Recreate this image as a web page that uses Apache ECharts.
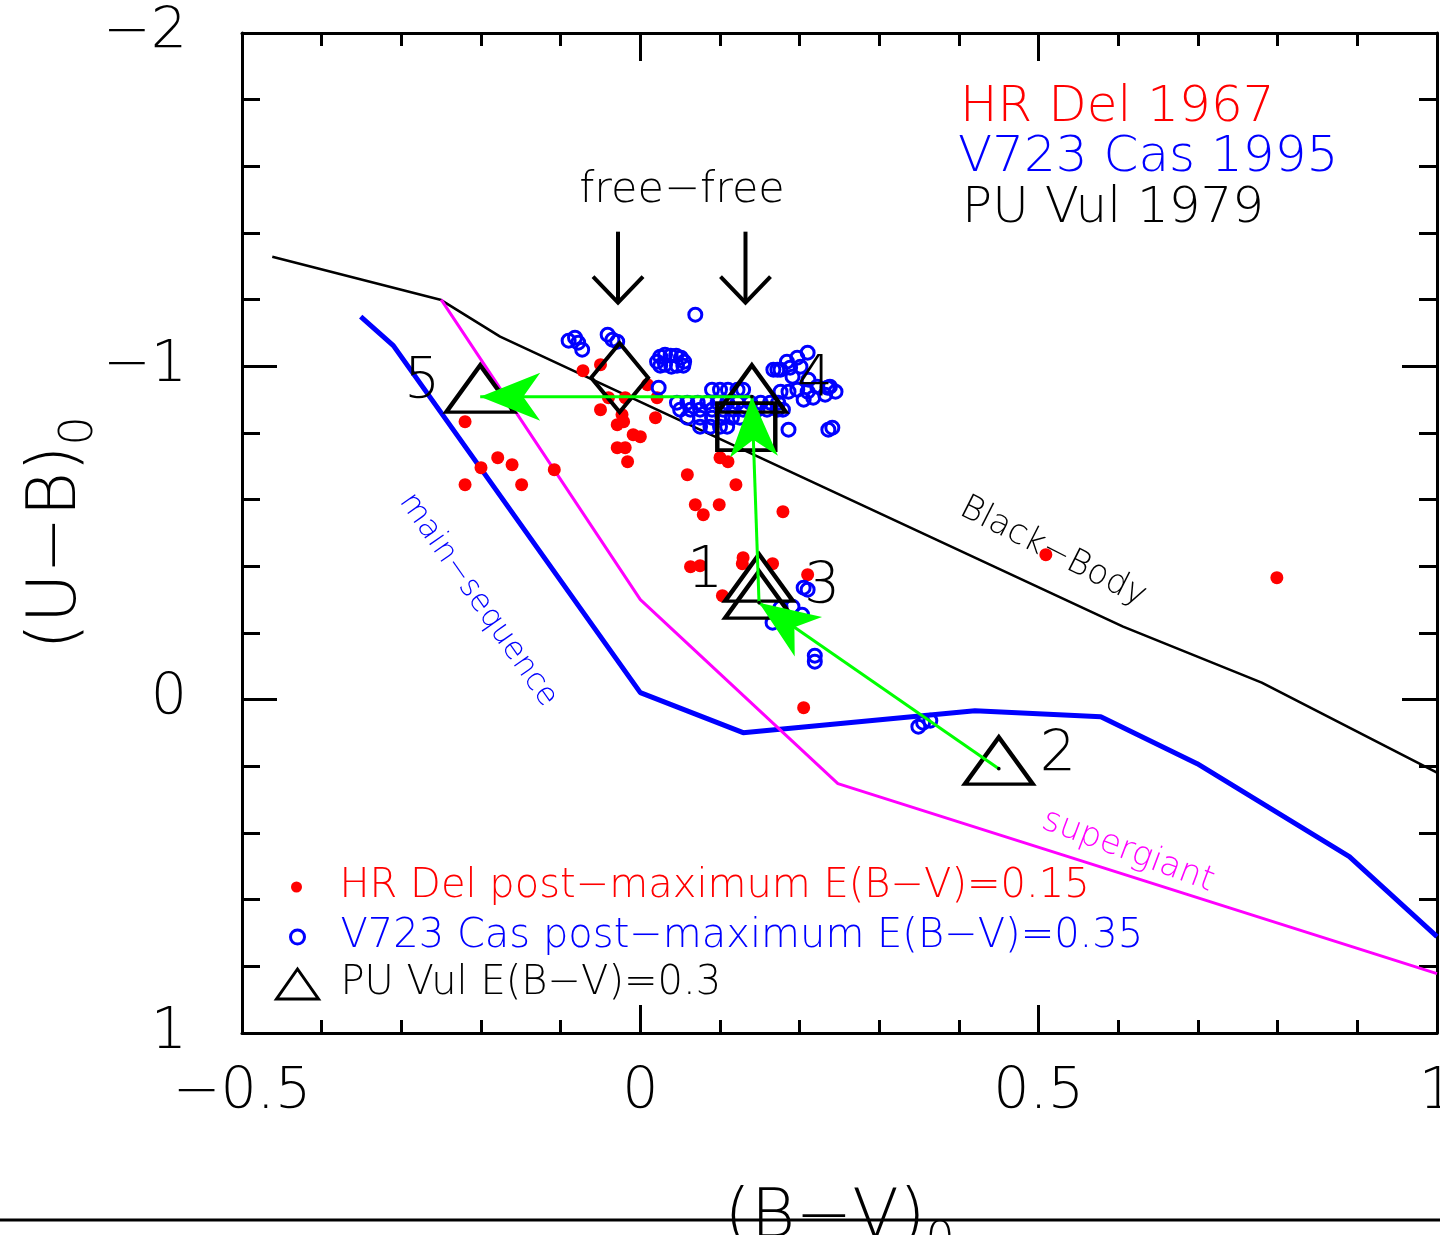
<!DOCTYPE html>
<html>
<head>
<meta charset="utf-8">
<title>(U−B)0 vs (B−V)0 two-colour diagram of novae</title>
<script src="https://cdn.jsdelivr.net/npm/echarts@6/dist/echarts.min.js"></script>
<style>
  html, body { margin: 0; padding: 0; background: #ffffff; }
  #chart { width: 1440px; height: 1235px; }
</style>
</head>
<body>
<div id="chart"></div>
<script>
// ---------------------------------------------------------------
// Data: intrinsic colours (B−V)0 and (U−B)0
// ---------------------------------------------------------------

// HR Del 1967, post-maximum, dereddened with E(B−V)=0.15
const hrDelBV = [-0.220, -0.179, -0.161, -0.200, -0.220, -0.149, -0.108,
  -0.072, -0.050, -0.040, -0.019, 0.009, 0.021, -0.050, -0.023, -0.021, -0.029,
  -0.009, 0.000, 0.019, -0.029, -0.019, -0.016, 0.059, 0.100, 0.110, 0.120,
  0.069, 0.079, 0.099, 0.179, 0.063, 0.075, 0.129, 0.128, 0.166, 0.210, 0.103,
  0.205, 0.509, 0.799];
const hrDelUB = [-0.834, -0.726, -0.705, -0.696, -0.645, -0.645, -0.690,
  -0.987, -1.005, -0.906, -0.906, -0.945, -0.906, -0.870, -0.855, -0.834, -0.825,
  -0.795, -0.789, -0.846, -0.756, -0.756, -0.714, -0.675, -0.726, -0.714, -0.645,
  -0.585, -0.555, -0.585, -0.564, -0.399, -0.402, -0.426, -0.408, -0.408, -0.375, -0.312,
  0.024, -0.435, -0.366];

// V723 Cas 1995, post-maximum, dereddened with E(B−V)=0.35
const v723BV = [0.069, -0.090, -0.078, -0.073, -0.082, -0.041, -0.035, -0.029,
  0.025, 0.031, 0.038, 0.045, 0.051, 0.055, 0.025, 0.031, 0.039, 0.046, 0.054, 0.021,
  0.023,
  0.090, 0.100, 0.110, 0.122, 0.129,
  0.046, 0.059, 0.072, 0.084, 0.097, 0.109, 0.122, 0.138, 0.151, 0.163, 0.173,
  0.050, 0.063, 0.075, 0.090, 0.104, 0.117, 0.129, 0.147, 0.159, 0.172, 0.179,
  0.059, 0.075, 0.090, 0.103, 0.115, 0.125,
  0.075, 0.088, 0.100, 0.109,
  0.186, 0.236, 0.241,
  0.210, 0.197, 0.184, 0.176, 0.188, 0.201, 0.191, 0.176, 0.186, 0.197, 0.210,
  0.205, 0.217, 0.232, 0.238, 0.245, 0.235, 0.222, 0.211, 0.172, 0.167,
  0.210, 0.205, 0.176, 0.191, 0.203, 0.166, 0.219, 0.219,
  0.349, 0.355, 0.364];
const v723UB = [-1.155, -1.077, -1.071, -1.050, -1.086, -1.095, -1.080, -1.074,
  -1.029, -1.035, -1.032, -1.032, -1.026, -1.014, -1.002, -1.005, -0.999, -1.002, -1.002, -1.014,
  -0.936,
  -0.930, -0.930, -0.930, -0.930, -0.930,
  -0.891, -0.891, -0.891, -0.891, -0.891, -0.891, -0.891, -0.891, -0.891, -0.891, -0.891,
  -0.870, -0.870, -0.870, -0.870, -0.870, -0.870, -0.870, -0.870, -0.870, -0.870, -0.870,
  -0.846, -0.846, -0.846, -0.846, -0.846, -0.846,
  -0.819, -0.819, -0.819, -0.819,
  -0.810, -0.810, -0.816,
  -1.041, -1.026, -1.014, -0.990, -0.996, -0.999, -0.969, -0.924, -0.924, -0.930, -0.924,
  -0.900, -0.906, -0.915, -0.939, -0.924, -0.936, -0.939, -0.960, -0.990, -0.990,
  -0.330, -0.336, -0.276, -0.279, -0.255, -0.231, -0.132, -0.114,
  0.081, 0.069, 0.063];

// PU Vul 1979, dereddened with E(B−V)=0.3; epochs 1..5
const puVulEpoch = ['1', '2', '3', '4', '5'];
const puVulBV = [0.149, 0.450, 0.149, 0.140, -0.201];
const puVulUB = [-0.342, 0.207, -0.291, -0.909, -0.909];
// evolution of PU Vul drawn as arrows: 2 -> 3 -> 4 -> 5 (indices into the arrays above)
const puVulTrack = [1, 2, 3, 4];

// free-free emission colours (optically thin / thick) and their pointer arrows
const freeFreeBV = [-0.026, 0.133];
const freeFreeUB = [-0.966, -0.819];
const freeFreeArrowBV = [-0.028, 0.132];
const freeFreeArrowFrom = -1.404;
const freeFreeArrowTo = -1.191;

// reference sequences
const blackBodyBV = [-0.462, -0.251, -0.176, 0.606, 0.780, 1.000];
const blackBodyUB = [-1.329, -1.200, -1.089, -0.219, -0.051, 0.219];
const mainSeqBV = [-0.351, -0.310, 0.000, 0.129, 0.420, 0.578, 0.699, 0.890, 1.000];
const mainSeqUB = [-1.149, -1.062, -0.021, 0.099, 0.033, 0.051, 0.192, 0.471, 0.711];
const superGiantBV = [-0.250, 0.000, 0.248, 1.000];
const superGiantUB = [-1.200, -0.300, 0.252, 0.822];

// axis ranges and labelled ticks
const bvRange = [-0.5, 1.0];
const ubRange = [-2, 1];
const bvLabelStep = 0.5;
const ubLabelStep = 1;

// legend / series names
const HR_DEL_NAME = 'HR Del post−maximum E(B−V)=0.15';
const V723_NAME = 'V723 Cas post−maximum E(B−V)=0.35';
const PU_VUL_NAME = 'PU Vul E(B−V)=0.3';

// ---------------------------------------------------------------
// Styling helpers
// ---------------------------------------------------------------
const FONT = '"DejaVu Sans", "Liberation Sans", sans-serif';
const THIN = 200;
const RED = '#ff0000';
const BLUE = '#0000ff';
const MAGENTA = '#ff00ff';
const GREEN = '#00ff00';
const BLACK = '#000000';

const zip = (xs, ys) => xs.map((x, i) => [x, ys[i]]);
const minus = (v) => {
  const r = Math.round(v * 1000) / 1000;
  return r < 0 ? '\u2212' + String(-r) : String(r);
};

// label offsets of the PU Vul epoch numbers relative to their triangles
const epochLabelOffset = [[-54, -5], [59, -4], [63, -6], [63, -7], [-58, -5]];

// axis titles with a subscript zero
const titleRich = {
  m: { fontSize: 68, fontFamily: FONT, fontWeight: THIN, color: BLACK, lineHeight: 68, verticalAlign: 'top' },
  s: { fontSize: 46, fontFamily: FONT, fontWeight: THIN, color: BLACK, lineHeight: 80, verticalAlign: 'bottom' }
};

function frameAxis(extra) {
  return Object.assign({
    type: 'value',
    axisLine: { show: true, onZero: false, lineStyle: { color: BLACK, width: 3 } },
    splitLine: { show: false },
    axisTick: { show: true, inside: true, lineStyle: { color: BLACK, width: 3 } },
    minorTick: { show: true, splitNumber: 5, lineStyle: { color: BLACK, width: 3 } },
    axisLabel: { show: false },
  }, extra);
}

// ---------------------------------------------------------------
// Custom renderers (arrows placed through the axes)
// ---------------------------------------------------------------
function renderTrackArrow(params, api) {
  const p1 = api.coord([api.value(0), api.value(1)]);
  const p2 = api.coord([api.value(2), api.value(3)]);
  const dx = p2[0] - p1[0];
  const dy = p2[1] - p1[1];
  const L = Math.hypot(dx, dy) || 1;
  const ux = dx / L, uy = dy / L;
  const nx = -uy, ny = ux;
  const headLen = 60, halfW = 24, notch = 43;
  const back = [p2[0] - ux * headLen, p2[1] - uy * headLen];
  const notchPt = [p2[0] - ux * notch, p2[1] - uy * notch];
  return {
    type: 'group',
    children: [
      {
        type: 'line',
        shape: { x1: p1[0], y1: p1[1], x2: p2[0], y2: p2[1] },
        style: { stroke: GREEN, lineWidth: 3 }
      },
      {
        type: 'polygon',
        shape: { points: [p2, [back[0] + nx * halfW, back[1] + ny * halfW], notchPt,
          [back[0] - nx * halfW, back[1] - ny * halfW]] },
        style: { fill: GREEN }
      },
      {
        type: 'circle',
        shape: { cx: p1[0], cy: p1[1], r: 1.8 },
        style: { fill: BLACK }
      }
    ]
  };
}

function renderPointerArrow(params, api) {
  const top = api.coord([api.value(0), api.value(1)]);
  const tip = api.coord([api.value(0), api.value(2)]);
  const w = 25, h = 26;
  return {
    type: 'group',
    children: [
      {
        type: 'line',
        shape: { x1: top[0], y1: top[1], x2: tip[0], y2: tip[1] },
        style: { stroke: BLACK, lineWidth: 4 }
      },
      {
        type: 'polyline',
        shape: { points: [[tip[0] - w, tip[1] - h], tip, [tip[0] + w, tip[1] - h]] },
        style: { stroke: BLACK, lineWidth: 4, fill: null }
      }
    ]
  };
}

const trackSegments = puVulTrack.slice(0, -1).map((idx, k) => {
  const next = puVulTrack[k + 1];
  return [puVulBV[idx], puVulUB[idx], puVulBV[next], puVulUB[next]];
});

// ---------------------------------------------------------------
// Chart
// ---------------------------------------------------------------
const chart = echarts.init(document.getElementById('chart'), null, { renderer: 'canvas' });

const legendText = (color) => ({
  color: color, fontSize: 40, fontFamily: FONT, fontWeight: THIN, lineHeight: 40
});

const option = {
  backgroundColor: '#ffffff',
  animation: false,
  grid: { left: 242, right: 3, top: 33, bottom: 202, outerBoundsMode: 'none', containLabel: false },
  xAxis: [
    frameAxis({
      position: 'bottom',
      min: bvRange[0], max: bvRange[1], interval: bvLabelStep,
      axisTick: { show: true, inside: true, length: 28, lineStyle: { color: BLACK, width: 3 } },
      minorTick: { show: true, splitNumber: 5, length: 13, lineStyle: { color: BLACK, width: 3 } },
      axisLabel: {
        show: true, margin: 32, color: BLACK, fontSize: 57, fontFamily: FONT, fontWeight: THIN,
        showMinLabel: true, showMaxLabel: true, formatter: minus
      },
      name: '{m|(B\u2212V)}{s|0}',
      nameLocation: 'middle',
      nameGap: 152,
      nameMoveOverlap: false,
      nameTextStyle: { rich: titleRich }
    }),
    frameAxis({
      position: 'top',
      min: bvRange[0], max: bvRange[1], interval: bvLabelStep,
      axisTick: { show: true, inside: true, length: 28, lineStyle: { color: BLACK, width: 3 } },
      minorTick: { show: true, splitNumber: 5, length: 13, lineStyle: { color: BLACK, width: 3 } }
    })
  ],
  yAxis: [
    frameAxis({
      position: 'left',
      inverse: true,
      min: ubRange[0], max: ubRange[1], interval: ubLabelStep,
      axisTick: { show: true, inside: true, length: 35, lineStyle: { color: BLACK, width: 3 } },
      minorTick: { show: true, splitNumber: 5, length: 18, lineStyle: { color: BLACK, width: 3 } },
      axisLabel: {
        show: true, margin: 55, color: BLACK, fontSize: 57, fontFamily: FONT, fontWeight: THIN,
        showMinLabel: true, showMaxLabel: true, formatter: minus
      },
      name: '{m|(U\u2212B)}{s|0}',
      nameLocation: 'middle',
      nameGap: 139,
      nameMoveOverlap: false,
      nameTextStyle: { rich: titleRich }
    }),
    frameAxis({
      position: 'right',
      inverse: true,
      min: ubRange[0], max: ubRange[1], interval: ubLabelStep,
      axisTick: { show: true, inside: true, length: 35, lineStyle: { color: BLACK, width: 3 } },
      minorTick: { show: true, splitNumber: 5, length: 18, lineStyle: { color: BLACK, width: 3 } }
    })
  ],
  legend: [
    {
      left: 291, top: 867, padding: 0, orient: 'vertical', selectedMode: false,
      itemWidth: 76, itemHeight: 11,
      textStyle: legendText(RED),
      data: [{ name: HR_DEL_NAME, icon: 'circle', itemStyle: { color: RED, borderWidth: 0 } }]
    },
    {
      left: 289, top: 917, padding: 0, orient: 'vertical', selectedMode: false,
      itemWidth: 76, itemHeight: 14,
      textStyle: legendText(BLUE),
      data: [{ name: V723_NAME, icon: 'circle',
        itemStyle: { color: 'rgba(0,0,0,0)', borderColor: BLUE, borderWidth: 3 } }]
    },
    {
      left: 275, top: 964, padding: 0, orient: 'vertical', selectedMode: false,
      itemWidth: 76, itemHeight: 30,
      textStyle: legendText(BLACK),
      data: [{ name: PU_VUL_NAME, icon: 'path://M21,0L42,30L0,30Z',
        itemStyle: { color: 'rgba(0,0,0,0)', borderColor: BLACK, borderWidth: 3 } }]
    }
  ],
  graphic: [
    // star identification, upper right
    { type: 'text', x: 960, y: 108, style: { text: 'HR Del 1967', fill: RED, fontSize: 50, fontFamily: FONT, fontWeight: THIN, align: 'left', verticalAlign: 'middle' } },
    { type: 'text', x: 958, y: 158, style: { text: 'V723 Cas 1995', fill: BLUE, fontSize: 50, fontFamily: FONT, fontWeight: THIN, align: 'left', verticalAlign: 'middle' } },
    { type: 'text', x: 962, y: 209, style: { text: 'PU Vul 1979', fill: BLACK, fontSize: 50, fontFamily: FONT, fontWeight: THIN, align: 'left', verticalAlign: 'middle' } },
    // annotations
    { type: 'text', x: 682, y: 191, style: { text: 'free\u2212free', fill: BLACK, fontSize: 43, fontFamily: FONT, fontWeight: THIN, align: 'center', verticalAlign: 'middle' } },
    { type: 'text', x: 1053, y: 552, rotation: -0.47, style: { text: 'Black\u2212Body', fill: BLACK, fontSize: 34, fontFamily: FONT, fontWeight: THIN, align: 'center', verticalAlign: 'middle' } },
    { type: 'text', x: 478, y: 600, rotation: -0.96, style: { text: 'main\u2212sequence', fill: BLUE, fontSize: 31, fontFamily: FONT, fontWeight: THIN, align: 'center', verticalAlign: 'middle' } },
    { type: 'text', x: 1128, y: 851, rotation: -0.36, style: { text: 'supergiant', fill: MAGENTA, fontSize: 34, fontFamily: FONT, fontWeight: THIN, align: 'center', verticalAlign: 'middle' } },
    // rule under the figure
    { type: 'line', z: 0, shape: { x1: 0, y1: 1220, x2: 1440, y2: 1220 }, style: { stroke: BLACK, lineWidth: 3 } }
  ],
  series: [
    {
      name: 'Black-Body', type: 'line', data: zip(blackBodyBV, blackBodyUB),
      symbol: 'none', silent: true, z: 1,
      lineStyle: { color: BLACK, width: 2.6 }
    },
    {
      name: 'main-sequence', type: 'line', data: zip(mainSeqBV, mainSeqUB),
      symbol: 'none', silent: true, z: 1,
      lineStyle: { color: BLUE, width: 5 }
    },
    {
      name: 'supergiant', type: 'line', data: zip(superGiantBV, superGiantUB),
      symbol: 'none', silent: true, z: 1,
      lineStyle: { color: MAGENTA, width: 3 }
    },
    {
      name: HR_DEL_NAME, type: 'scatter', data: zip(hrDelBV, hrDelUB),
      symbol: 'circle', symbolSize: 13, silent: true, z: 3,
      itemStyle: { color: RED, opacity: 1 }
    },
    {
      name: V723_NAME, type: 'scatter', data: zip(v723BV, v723UB),
      symbol: 'circle', symbolSize: 13, silent: true, z: 4,
      itemStyle: { color: 'rgba(0,0,0,0)', borderColor: BLUE, borderWidth: 3, opacity: 1 }
    },
    {
      name: 'free-free colours', type: 'scatter', silent: true, z: 5,
      data: [
        { value: [freeFreeBV[0], freeFreeUB[0]], symbol: 'diamond', symbolSize: [57, 69] },
        { value: [freeFreeBV[1], freeFreeUB[1]], symbol: 'rect', symbolSize: [58, 47] }
      ],
      itemStyle: { color: 'rgba(0,0,0,0)', borderColor: BLACK, borderWidth: 4, opacity: 1 }
    },
    {
      name: 'free-free pointers', type: 'custom', silent: true, z: 5,
      renderItem: renderPointerArrow,
      data: freeFreeArrowBV.map((x) => [x, freeFreeArrowFrom, freeFreeArrowTo]),
      encode: { x: 0, y: [1, 2] }
    },
    {
      name: PU_VUL_NAME, type: 'scatter', silent: true, z: 6,
      data: puVulBV.map((x, i) => ({ value: [x, puVulUB[i]], label: { offset: epochLabelOffset[i] } })),
      symbol: 'triangle', symbolSize: [68, 47], symbolOffset: [0, -8],
      itemStyle: { color: 'rgba(0,0,0,0)', borderColor: BLACK, borderWidth: 4, opacity: 1 },
      label: {
        show: true, position: 'inside', color: BLACK, fontSize: 57, fontFamily: FONT, fontWeight: THIN,
        formatter: (p) => puVulEpoch[p.dataIndex]
      }
    },
    {
      name: 'PU Vul track', type: 'custom', silent: true, z: 7,
      renderItem: renderTrackArrow,
      data: trackSegments,
      encode: { x: [0, 2], y: [1, 3] }
    }
  ]
};

chart.setOption(option);
</script>
</body>
</html>
